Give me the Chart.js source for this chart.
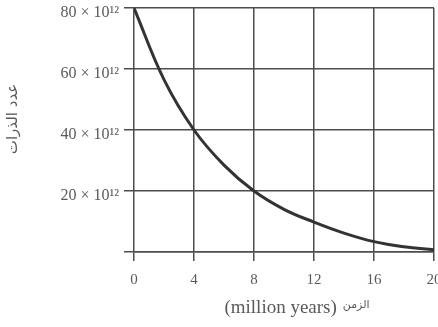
<!DOCTYPE html>
<html>
<head>
<meta charset="utf-8">
<script src="https://cdn.jsdelivr.net/npm/chart.js@4/dist/chart.umd.min.js"></script>
<style>
  html, body { margin: 0; padding: 0; background: #fff; overflow: hidden; }
  #wrap { position: relative; width: 438px; height: 327px; }
</style>
</head>
<body>
<div id="wrap"><canvas id="decayChart"></canvas></div>
<script>
// ==================== DATA ====================
const years = [0, 2, 4, 6, 8, 10, 12, 14, 16, 18, 20];
const atoms = [80, 56.5, 40, 28.5, 20, 14, 9.8, 6.2, 3.4, 1.7, 0.7];
const xTicks = [0, 4, 8, 12, 16, 20];
const yTicks = [20, 40, 60, 80];
const yTitle = 'عدد الذرات';
const xTitleEn = '(million years)';
const xTitleAr = 'الزمن';

// ==================== STYLE ====================
const GRID = '#4d4d4d';
const TEXT = '#5a5a5a';
const SERIF = '"Liberation Serif", "DejaVu Serif", serif';
const ARABIC = '"DejaVu Sans", "Noto Sans", sans-serif';

// axis titles: drawn by hand so the arabic word can sit beside the english
const titlesPlugin = {
    id: 'titles',
    afterDraw(chart) {
        const c = chart.ctx;
        const area = chart.chartArea;
        c.save();
        c.fillStyle = TEXT;

        // x title
        c.textBaseline = 'alphabetic';
        c.font = '19px ' + SERIF;
        const enW = c.measureText(xTitleEn).width;
        c.font = '11px ' + ARABIC;
        const arW = c.measureText(xTitleAr).width;
        const gap = 6;
        const x0 = 297 - (enW + gap + arW) / 2;
        const y = area.bottom + 61;
        c.textAlign = 'left';
        c.font = '19px ' + SERIF;
        c.fillText(xTitleEn, x0, y);
        c.font = '11px ' + ARABIC;
        c.fillText(xTitleAr, x0 + enW + gap, y - 5);

        // y title
        c.translate(13, 119);
        c.rotate(-Math.PI / 2);
        c.textAlign = 'center';
        c.textBaseline = 'middle';
        c.font = '15px ' + ARABIC;
        c.fillText(yTitle, 0, 0);
        c.restore();
    }
};

const ctx = document.getElementById('decayChart').getContext('2d');

new Chart(ctx, {
    type: 'line',
    data: {
        datasets: [{
            data: years.map((t, i) => ({ x: t, y: atoms[i] })),
            borderColor: '#333333',
            borderWidth: 3,
            pointRadius: 0,
            fill: false,
            tension: 0.4,
        }]
    },
    options: {
        responsive: true,
        maintainAspectRatio: false,
        animation: false,
        layout: { padding: { top: 8, right: 4 } },
        plugins: {
            legend: { display: false },
            tooltip: { enabled: false }
        },
        scales: {
            x: {
                type: 'linear',
                min: 0,
                max: 20,
                afterBuildTicks: axis => { axis.ticks = xTicks.map(v => ({ value: v })); },
                afterFit: axis => {
                    axis.height = 75;
                    axis.paddingLeft = 0;
                    axis.paddingRight = 0;
                },
                grid: { color: GRID, lineWidth: 1.5, tickLength: 9 },
                border: { color: GRID, width: 1.5 },
                ticks: {
                    color: TEXT,
                    font: { family: SERIF, size: 15 },
                    padding: 10,
                    maxRotation: 0,
                }
            },
            y: {
                min: 0,
                max: 80,
                afterBuildTicks: axis => { axis.ticks = [0, ...yTicks].map(v => ({ value: v })); },
                afterFit: axis => {
                    axis.width = 134;
                    axis.paddingTop = 0;
                    axis.paddingBottom = 0;
                },
                grid: { color: GRID, lineWidth: 1.5, tickLength: 10 },
                border: { display: false },
                ticks: {
                    color: TEXT,
                    font: { family: SERIF, size: 16 },
                    padding: 5,
                    labelOffset: 5,
                    callback: v => v === 0 ? '' : v + ' × 10¹²'
                }
            }
        }
    },
    plugins: [titlesPlugin]
});
</script>
</body>
</html>
